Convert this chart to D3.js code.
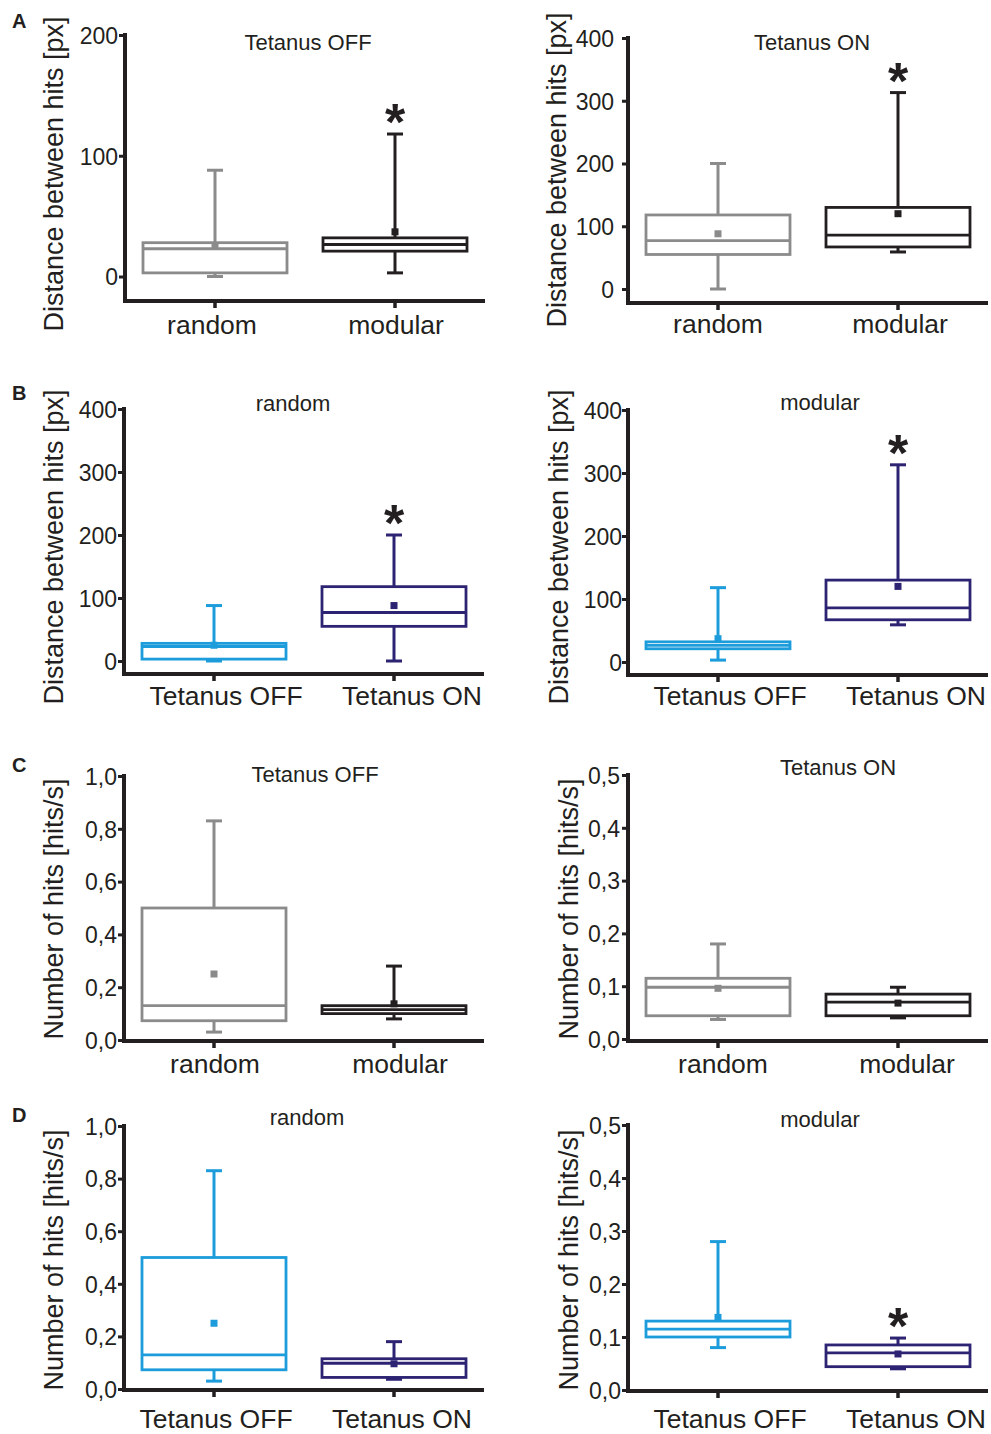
<!DOCTYPE html>
<html>
<head>
<meta charset="utf-8">
<script src="https://cdn.jsdelivr.net/npm/d3@7"></script>
<style>
  html, body { margin: 0; padding: 0; background: #ffffff; }
  svg { display: block; font-family: "Liberation Sans", Arial, Helvetica, sans-serif; }
</style>
</head>
<body>
<svg id="fig" width="991" height="1434"></svg>
<script>
// ---- data -------------------------------------------------------------
// Each box: [whisker low, Q1, median, Q3, whisker high, mean]
const distRandomOff  = [0, 3, 23, 28, 88, 25];
const distRandomOn   = [0, 55, 77, 118, 200, 88];
const distModularOff = [3, 21, 26.5, 32, 118, 37];
const distModularOn  = [59, 67, 86, 130, 313, 120];

const rateRandomOff  = [0.03, 0.073, 0.13, 0.5, 0.83, 0.25];
const rateRandomOn   = [0.037, 0.044, 0.098, 0.115, 0.18, 0.096];
const rateModularOff = [0.08, 0.1, 0.115, 0.13, 0.28, 0.137];
const rateModularOn  = [0.04, 0.044, 0.07, 0.085, 0.098, 0.068];

const networkCats = ["random", "modular"];
const tetanusCats = ["Tetanus OFF", "Tetanus ON"];

const distTicks200 = [0, 100, 200];
const distTicks400 = [0, 100, 200, 300, 400];
const rateTicks10  = [0, 0.2, 0.4, 0.6, 0.8, 1.0];
const rateTicks05  = [0, 0.1, 0.2, 0.3, 0.4, 0.5];

const distLabel = "Distance between hits [px]";
const rateLabel = "Number of hits [hits/s]";

// significance marks (one flag per box)
const sigA1 = [false, true];
const sigA2 = [false, true];
const sigB1 = [false, true];
const sigB2 = [false, true];
const sigC1 = [false, false];
const sigC2 = [false, false];
const sigD1 = [false, false];
const sigD2 = [false, true];

// ---- styles -----------------------------------------------------------
const ink   = "#231f20";
const grey  = "#8b8b8b";
const cyan  = "#1c9cdb";
const navy  = "#2d2373";

const commaLocale = d3.formatLocale({ decimal: ",", thousands: ".", grouping: [3], currency: ["", ""] });
const fmtInt = d3.format("d");
const fmtDec = commaLocale.format(".1f");

// ---- panel definitions ------------------------------------------------
const panels = [
  { letter: "A", title: "Tetanus OFF", cats: networkCats, boxes: [distRandomOff, distModularOff], colors: [grey, ink], yMax: 200, ticks: distTicks200, fmt: fmtInt, yLabel: distLabel, sig: sigA1 },
  { letter: null, title: "Tetanus ON", cats: networkCats, boxes: [distRandomOn, distModularOn], colors: [grey, ink], yMax: 400, ticks: distTicks400, fmt: fmtInt, yLabel: distLabel, sig: sigA2 },
  { letter: "B", title: "random", cats: tetanusCats, boxes: [distRandomOff, distRandomOn], colors: [cyan, navy], yMax: 400, ticks: distTicks400, fmt: fmtInt, yLabel: distLabel, sig: sigB1 },
  { letter: null, title: "modular", cats: tetanusCats, boxes: [distModularOff, distModularOn], colors: [cyan, navy], yMax: 400, ticks: distTicks400, fmt: fmtInt, yLabel: distLabel, sig: sigB2 },
  { letter: "C", title: "Tetanus OFF", cats: networkCats, boxes: [rateRandomOff, rateModularOff], colors: [grey, ink], yMax: 1.0, ticks: rateTicks10, fmt: fmtDec, yLabel: rateLabel, sig: sigC1 },
  { letter: null, title: "Tetanus ON", cats: networkCats, boxes: [rateRandomOn, rateModularOn], colors: [grey, ink], yMax: 0.5, ticks: rateTicks05, fmt: fmtDec, yLabel: rateLabel, sig: sigC2 },
  { letter: "D", title: "random", cats: tetanusCats, boxes: [rateRandomOff, rateRandomOn], colors: [cyan, navy], yMax: 1.0, ticks: rateTicks10, fmt: fmtDec, yLabel: rateLabel, sig: sigD1 },
  { letter: null, title: "modular", cats: tetanusCats, boxes: [rateModularOff, rateModularOn], colors: [cyan, navy], yMax: 0.5, ticks: rateTicks05, fmt: fmtDec, yLabel: rateLabel, sig: sigD2 }
];

// page geometry of every panel
const layout = [
  { L: 125, top: 35,   zero: 276.5, axisY: 301,  pad: 1, labX: 63,  labY: 174,  titleX: 308, titleY: 50,   catY: 334,  catDx: [-3, 1],  letterY: 28 },
  { L: 628, top: 38,   zero: 289,   axisY: 303,  pad: 8, labX: 566, labY: 170,  titleX: 812, titleY: 50,   catY: 333,  catDx: [0, 2] },
  { L: 124, top: 409,  zero: 661,   axisY: 674,  pad: 1, labX: 63,  labY: 547,  titleX: 293, titleY: 411,  catY: 705,  catDx: [12, 18], letterY: 400 },
  { L: 628, top: 410,  zero: 662,   axisY: 675,  pad: 0, labX: 568, labY: 547,  titleX: 820, titleY: 410,  catY: 705,  catDx: [12, 18] },
  { L: 124, top: 776,  zero: 1040,  axisY: 1041, pad: 1, labX: 63,  labY: 909,  titleX: 315, titleY: 782,  catY: 1073, catDx: [1, 6],   letterY: 772 },
  { L: 628, top: 775,  zero: 1039,  axisY: 1041, pad: 2, labX: 578, labY: 909,  titleX: 838, titleY: 775,  catY: 1073, catDx: [5, 9] },
  { L: 124, top: 1126, zero: 1389,  axisY: 1390, pad: 1, labX: 63,  labY: 1260, titleX: 307, titleY: 1125, catY: 1428, catDx: [2, 8],   letterY: 1122 },
  { L: 628, top: 1125, zero: 1390,  axisY: 1391, pad: 1, labX: 578, labY: 1260, titleX: 820, titleY: 1127, catY: 1428, catDx: [12, 18] }
];

const svg = d3.select("#fig");

panels.forEach((p, i) => {
  const lay = layout[i];
  const g = svg.append("g").attr("class", "panel");

  const x = d3.scaleBand()
    .domain(p.cats)
    .range([lay.L, lay.L + 360])
    .paddingInner(0.2)
    .paddingOuter(0.1);
  const y = d3.scaleLinear().domain([0, p.yMax]).range([lay.zero, lay.top]);

  // panel letter
  if (p.letter) {
    g.append("text")
      .attr("x", 12).attr("y", lay.letterY)
      .attr("font-size", 20).attr("font-weight", "bold").attr("fill", ink)
      .text(p.letter);
  }

  // title
  g.append("text")
    .attr("x", lay.titleX).attr("y", lay.titleY)
    .attr("text-anchor", "middle")
    .attr("font-size", 22).attr("fill", ink)
    .text(p.title);

  // y axis label
  g.append("text")
    .attr("transform", `translate(${lay.labX},${lay.labY}) rotate(-90)`)
    .attr("text-anchor", "middle")
    .attr("font-size", 27).attr("fill", ink)
    .text(p.yLabel);

  // y axis
  const ya = g.append("g")
    .attr("transform", `translate(${lay.L},0)`)
    .call(d3.axisLeft(y).tickValues(p.ticks).tickSize(6).tickPadding(lay.pad).tickFormat(p.fmt));
  ya.attr("font-family", null).attr("font-size", null);
  ya.select(".domain").remove();
  ya.selectAll(".tick line").attr("stroke", ink).attr("stroke-width", 3);
  ya.selectAll(".tick text").attr("font-size", 23).attr("fill", ink).attr("dy", "0.36em");

  g.append("line")
    .attr("x1", lay.L).attr("x2", lay.L)
    .attr("y1", lay.top - 2).attr("y2", lay.axisY)
    .attr("stroke", ink).attr("stroke-width", 4);

  // x axis
  const xa = g.append("g")
    .attr("transform", `translate(0,${lay.axisY})`)
    .call(d3.axisBottom(x).tickSize(7).tickSizeOuter(0));
  xa.attr("font-family", null).attr("font-size", null);
  xa.select(".domain").remove();
  xa.selectAll(".tick line").attr("stroke", ink).attr("stroke-width", 3.5);
  xa.selectAll(".tick text")
    .attr("font-size", 26.5).attr("fill", ink)
    .attr("y", lay.catY - lay.axisY).attr("dy", null)
    .attr("x", (d, j) => lay.catDx[j]);

  g.append("line")
    .attr("x1", lay.L - 2).attr("x2", lay.L + 360)
    .attr("y1", lay.axisY).attr("y2", lay.axisY)
    .attr("stroke", ink).attr("stroke-width", 4);

  // boxes
  const bw = x.bandwidth();
  const cap = 8;
  p.cats.forEach((c, j) => {
    const [lo, q1, med, q3, hi, mean] = p.boxes[j];
    const col = p.colors[j];
    const cx = x(c) + bw / 2;
    const b = g.append("g").attr("class", "box")
      .attr("stroke", col).attr("stroke-width", 3).attr("fill", "none");

    // whiskers
    b.append("line").attr("x1", cx).attr("x2", cx).attr("y1", y(q3)).attr("y2", y(hi));
    b.append("line").attr("x1", cx - cap).attr("x2", cx + cap).attr("y1", y(hi)).attr("y2", y(hi));
    b.append("line").attr("x1", cx).attr("x2", cx).attr("y1", y(q1)).attr("y2", y(lo));
    b.append("line").attr("x1", cx - cap).attr("x2", cx + cap).attr("y1", y(lo)).attr("y2", y(lo));

    // box and median
    b.append("rect")
      .attr("x", cx - bw / 2).attr("y", y(q3))
      .attr("width", bw).attr("height", y(q1) - y(q3))
      .attr("stroke-width", 2.8);
    b.append("line")
      .attr("x1", cx - bw / 2).attr("x2", cx + bw / 2)
      .attr("y1", y(med)).attr("y2", y(med))
      .attr("stroke-width", 2.8);

    // mean
    g.append("rect")
      .attr("x", cx - 3.5).attr("y", y(mean) - 3.5)
      .attr("width", 7).attr("height", 7)
      .attr("fill", col);

    // significance
    if (p.sig[j]) {
      g.append("text")
        .attr("x", cx).attr("y", y(hi) - 26)
        .attr("dy", "0.62em")
        .attr("text-anchor", "middle")
        .attr("font-size", 52).attr("font-weight", "bold").attr("fill", ink)
        .text("*");
    }
  });
});
</script>
</body>
</html>
